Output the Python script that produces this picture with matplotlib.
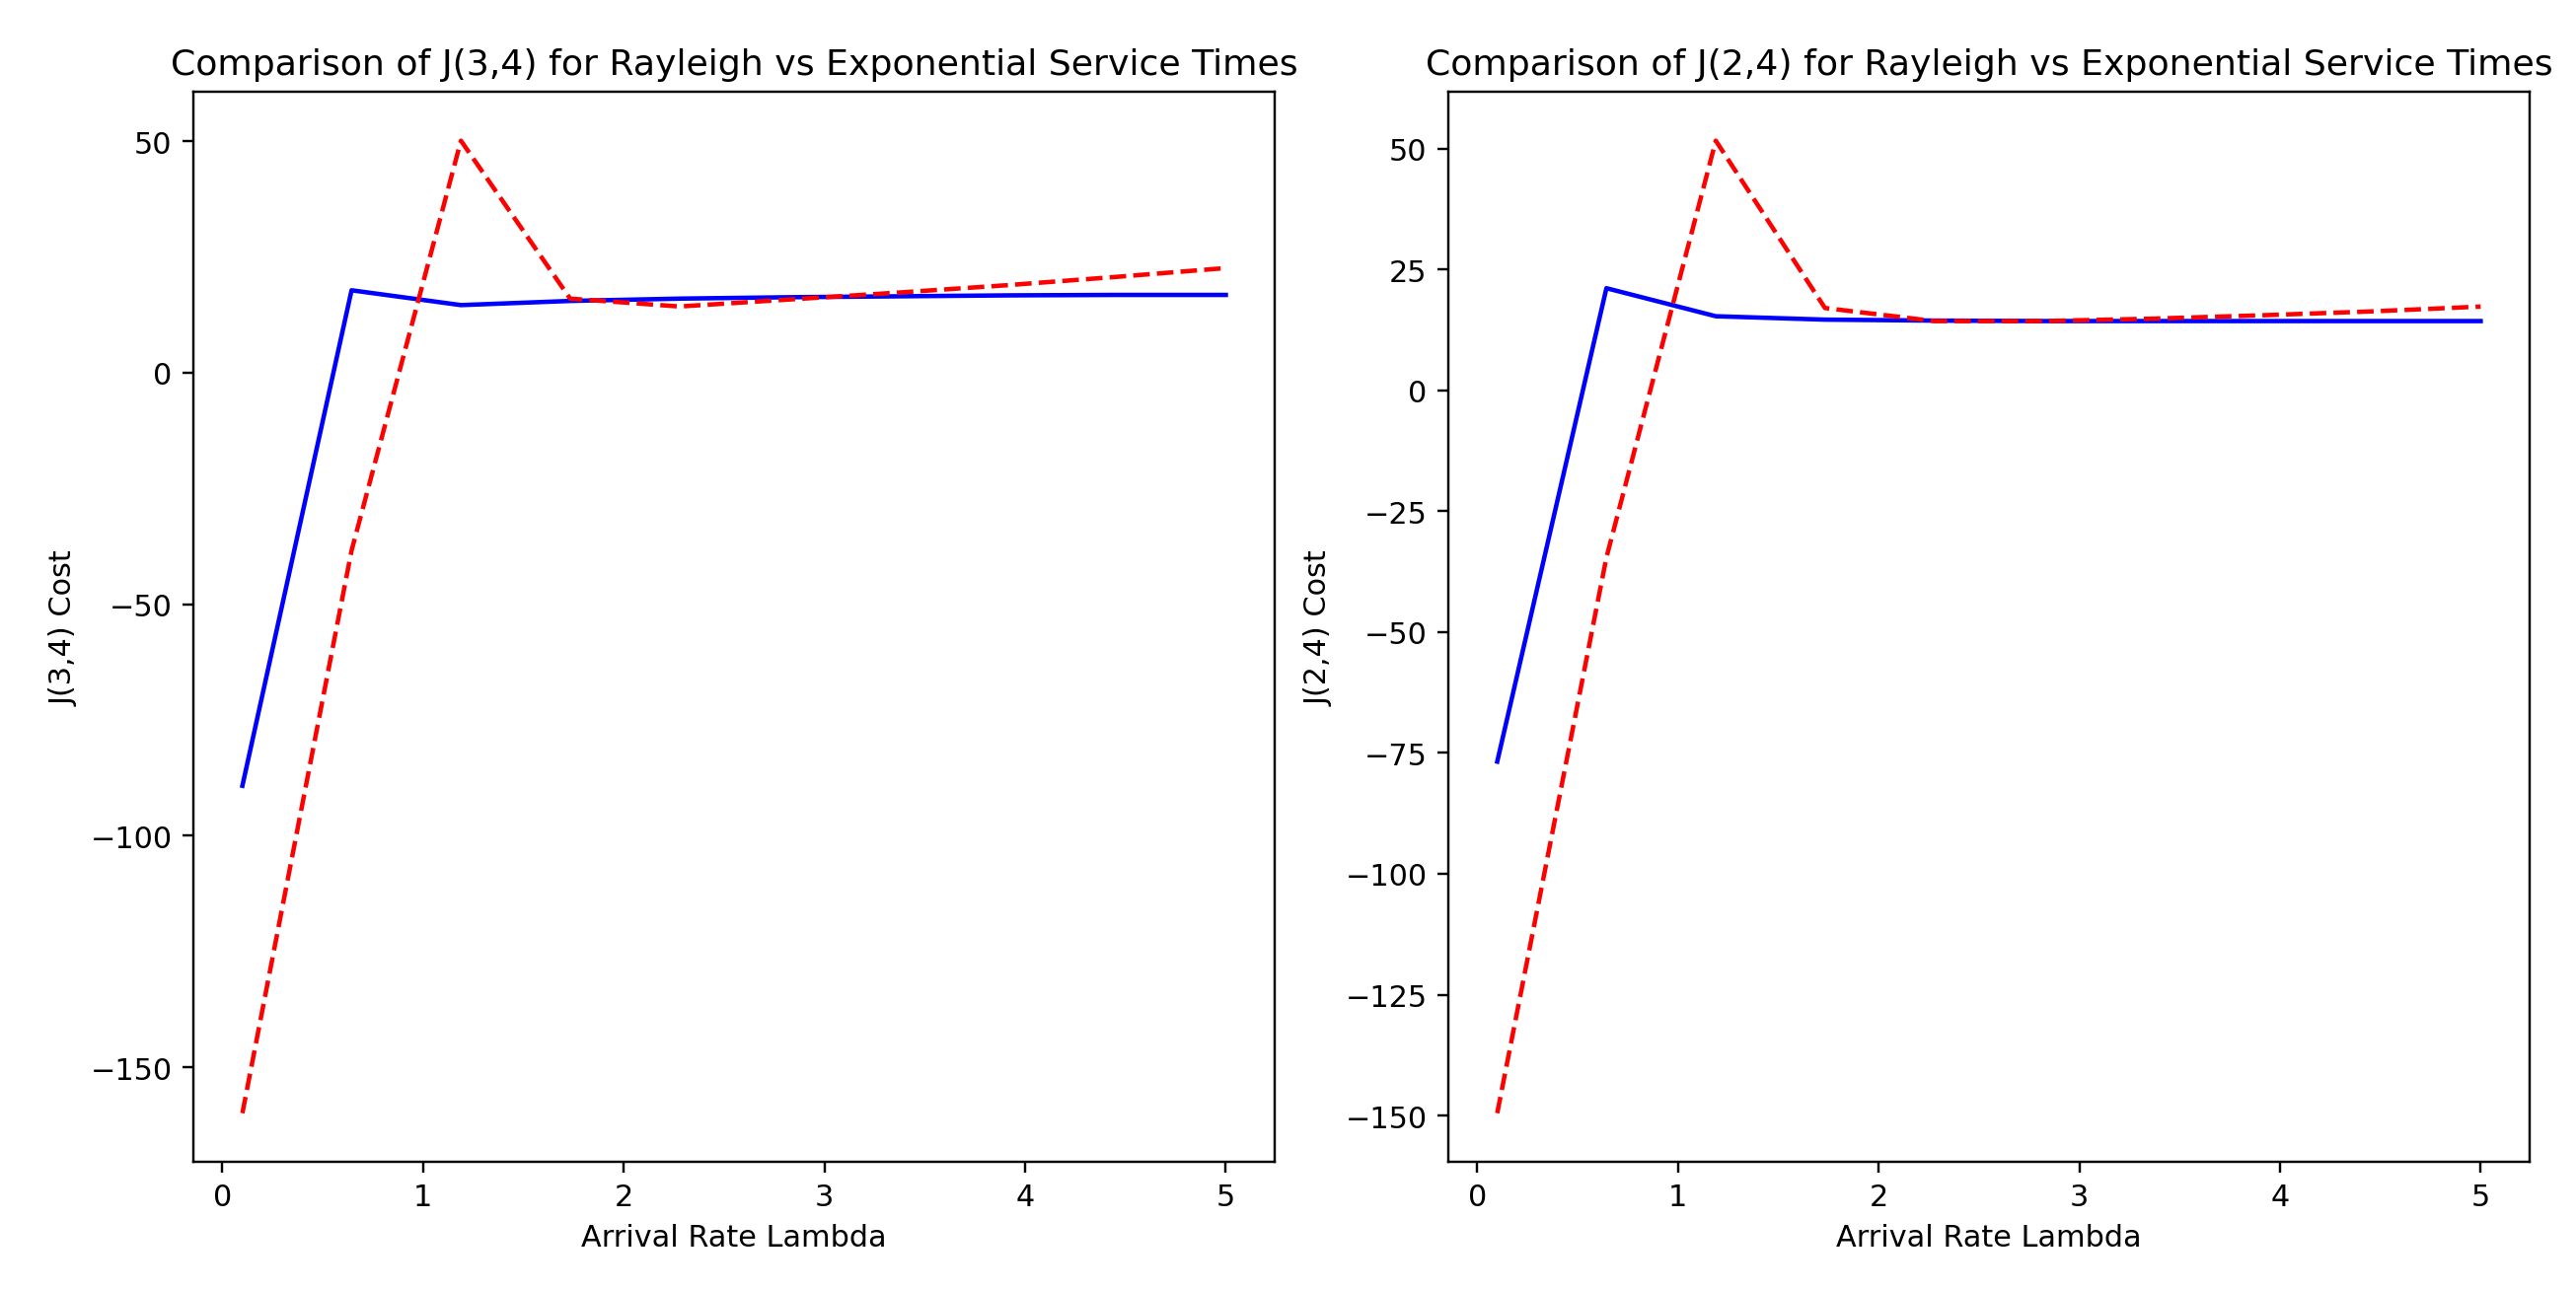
import numpy as np
import matplotlib
matplotlib.use('Agg')
import matplotlib.pyplot as plt

# Arrival rates (10 evenly spaced points from 0.1 to 5)
lambdas = [0.1, 0.644, 1.189, 1.733, 2.278, 2.822, 3.367, 3.911, 4.456, 5.0]

# J(3,4) cost values
j34_rayleigh = [-89.2, 17.8, 14.6, 15.5, 16.0, 16.3, 16.5, 16.7, 16.8, 16.8]
j34_exponential = [-159.9, -38.4, 50.1, 16.0, 14.3, 15.8, 17.3, 18.9, 20.7, 22.6]

# J(2,4) cost values
j24_rayleigh = [-76.8, 21.1, 15.3, 14.6, 14.4, 14.3, 14.3, 14.3, 14.3, 14.3]
j24_exponential = [-149.5, -34.6, 51.6, 17.0, 14.3, 14.3, 14.8, 15.5, 16.3, 17.3]

fig, (ax1, ax2) = plt.subplots(1, 2, figsize=(12, 6.02), dpi=217.6)

ax1.plot(lambdas, j34_rayleigh, color='b', label='Rayleigh')
ax1.plot(lambdas, j34_exponential, color='r', linestyle='--', label='Exponential')
ax1.set_title('Comparison of J(3,4) for Rayleigh vs Exponential Service Times')
ax1.set_xlabel('Arrival Rate Lambda')
ax1.set_ylabel('J(3,4) Cost')

ax2.plot(lambdas, j24_rayleigh, color='b', label='Rayleigh')
ax2.plot(lambdas, j24_exponential, color='r', linestyle='--', label='Exponential')
ax2.set_title('Comparison of J(2,4) for Rayleigh vs Exponential Service Times')
ax2.set_xlabel('Arrival Rate Lambda')
ax2.set_ylabel('J(2,4) Cost')
ax2.set_yticks([50, 25, 0, -25, -50, -75, -100, -125, -150])

plt.subplots_adjust(left=0.075, right=0.982, bottom=0.1, top=0.928, wspace=0.16)
plt.savefig('out.png')
plt.close()
